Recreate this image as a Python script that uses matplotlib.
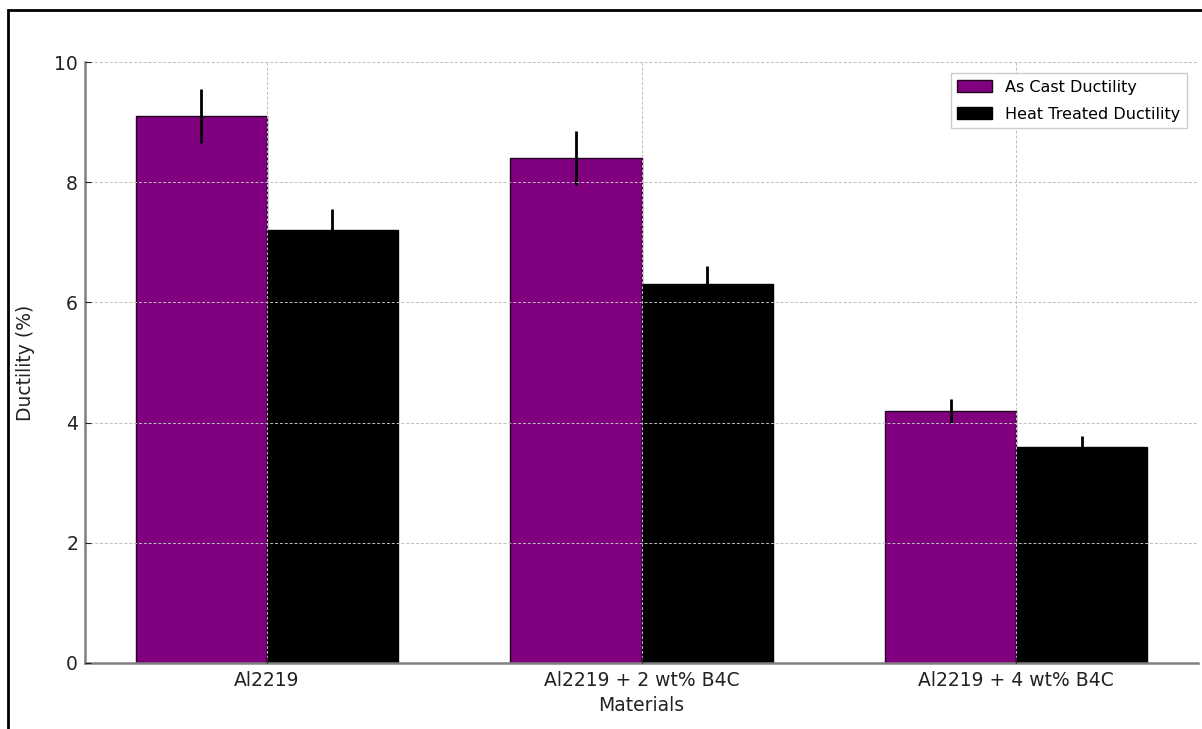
import numpy as np
import matplotlib.pyplot as plt
from matplotlib.patches import Rectangle

# Data
materials = ["Al2219", "Al2219 + 2 wt% B4C", "Al2219 + 4 wt% B4C"]
as_cast = [9.1, 8.4, 4.2]
as_cast_err = [0.45, 0.45, 0.2]
heat_treated = [7.2, 6.3, 3.6]
heat_treated_err = [0.35, 0.3, 0.17]

x = np.arange(len(materials))
width = 0.35

fig = plt.figure(figsize=(12.02, 7.29), dpi=100)
ax = fig.add_axes([85 / 1202, 1 - 663 / 729, (1198 - 85) / 1202, (663 - 62) / 729])

ax.bar(x - width / 2, as_cast, width, yerr=as_cast_err, color="purple",
       edgecolor="#220022", linewidth=1, label="As Cast Ductility",
       error_kw=dict(ecolor="black", elinewidth=2, capsize=0))
ax.bar(x + width / 2, heat_treated, width, yerr=heat_treated_err, color="black",
       edgecolor="black", linewidth=1, label="Heat Treated Ductility",
       error_kw=dict(ecolor="black", elinewidth=2, capsize=0))

ax.set_xticks(x)
ax.set_xticklabels(materials)
ax.set_ylim(0, 10)
ax.set_yticks([0, 2, 4, 6, 8, 10])
ax.set_xlabel("Materials", fontsize=13.5, color="#222222", labelpad=4)
ax.set_ylabel("Ductility (%)", fontsize=13.5, color="#222222", labelpad=14)
ax.tick_params(direction="in", labelsize=13.5, colors="#222222", length=4)
ax.tick_params(axis="y", pad=5)
ax.tick_params(axis="x", pad=6)

ax.set_axisbelow(False)
ax.grid(True, color="#bdbdbd", linestyle=(0, (3, 2)), linewidth=0.7)

for side in ["top", "right"]:
    ax.spines[side].set_visible(False)
for side in ["left", "bottom"]:
    ax.spines[side].set_color("#808080")
    ax.spines[side].set_linewidth(1.8)

ax.legend(loc="upper right", fontsize=11.5, fancybox=False, framealpha=1,
          edgecolor="#cccccc", handlelength=2.2, labelspacing=0.75,
          borderaxespad=0.7)

# outer frame (cropped on right and bottom)
fig.patches.append(Rectangle((8 / 1202, -0.1), 1.2, 1 - 10 / 729 + 0.1,
                             transform=fig.transFigure, fill=False,
                             edgecolor="black", linewidth=2))

fig.savefig("out.png", dpi=100)
